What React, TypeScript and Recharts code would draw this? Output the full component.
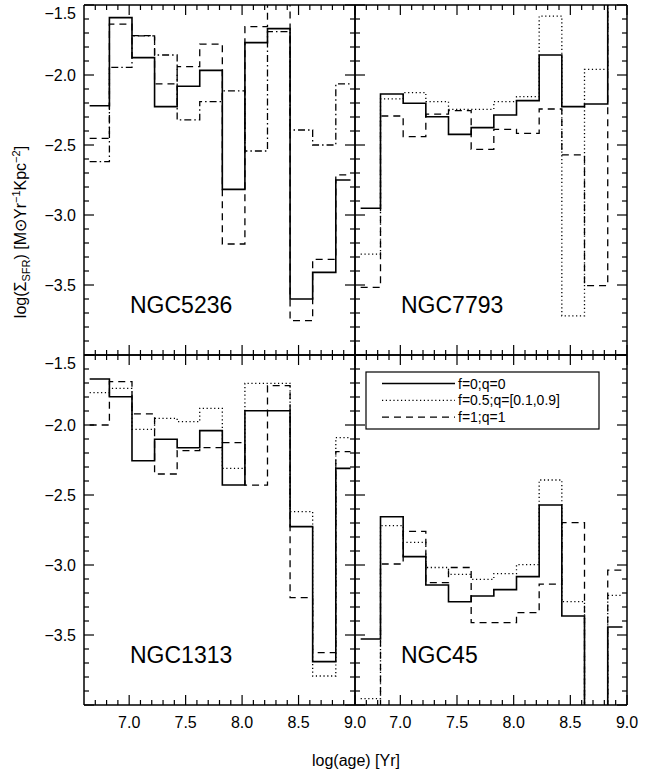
import React from 'react'
import { LineChart, Line, XAxis, YAxis } from 'recharts'

// bin edges in log(age); last edge closes the final bin
const BIN_EDGES = [6.65, 6.825, 7.025, 7.225, 7.425, 7.625, 7.825, 8.025, 8.225, 8.425, 8.625, 8.83, 8.96]

// log(Sigma_SFR) per bin (values beyond the frame are clipped)
const NGC5236_F0 = [-2.22, -1.59, -1.876, -2.226, -2.08, -1.967, -2.817, -1.769, -1.669, -3.6, -3.41, -2.75]
const NGC5236_F05 = [-2.619, -1.945, -1.72, -1.857, -2.32, -2.19, -2.114, -2.543, -1.69, -2.393, -2.5, -2.064]
const NGC5236_F1 = [-2.452, -1.636, -1.719, -2.064, -1.94, -1.779, -3.207, -1.655, -1.4, -3.755, -3.317, -2.714]

const NGC7793_F0 = [-2.952, -2.136, -2.202, -2.298, -2.424, -2.376, -2.286, -2.183, -1.857, -2.226, -2.207, -1.3]
const NGC7793_F05 = [-3.28, -2.171, -2.126, -2.19, -2.245, -2.245, -2.19, -2.155, -1.579, -3.72, -1.96, -1.3]
const NGC7793_F1 = [-3.517, -2.293, -2.44, -2.279, -2.255, -2.531, -2.388, -2.417, -2.243, -2.571, -3.505, -1.3]

const NGC1313_F0 = [-1.671, -1.798, -2.255, -2.102, -2.162, -2.04, -2.429, -1.898, -1.898, -2.726, -3.69, -2.31]
const NGC1313_F05 = [-1.769, -1.738, -2.031, -1.952, -1.976, -1.881, -2.31, -1.702, -1.702, -2.619, -3.793, -2.09]
const NGC1313_F1 = [-2.0, -1.69, -1.921, -2.35, -2.183, -2.162, -2.126, -2.429, -1.719, -3.233, -3.626, -2.19]

const NGC45_F0 = [-3.529, -2.655, -2.94, -3.143, -3.262, -3.221, -3.176, -3.083, -2.571, -3.364, -4.3, -3.443]
const NGC45_F05 = [-3.955, -2.719, -2.839, -3.018, -3.067, -3.102, -3.062, -2.998, -2.393, -3.262, -4.3, -3.217]
const NGC45_F1 = [-4.3, -2.993, -2.76, -3.126, -3.018, -3.412, -3.412, -3.34, -3.136, -2.698, -4.3, -3.036]

const X_TICKS = [6.7, 6.8, 6.9, 7.0, 7.1, 7.2, 7.3, 7.4, 7.5, 7.6, 7.7, 7.8, 7.9, 8.0, 8.1, 8.2, 8.3, 8.4, 8.5, 8.6, 8.7, 8.8, 8.9, 9.0]
const X_LABELS = [7.0, 7.5, 8.0, 8.5, 9.0]
const Y_TICKS = [-4.0, -3.9, -3.8, -3.7, -3.6, -3.5, -3.4, -3.3, -3.2, -3.1, -3.0, -2.9, -2.8, -2.7, -2.6, -2.5, -2.4, -2.3, -2.2, -2.1, -2.0, -1.9, -1.8, -1.7, -1.6, -1.5]
const Y_LABELS = [-3.5, -3.0, -2.5, -2.0, -1.5]

const LEGEND_LABELS = ['f=0;q=0', 'f=0.5;q=[0.1,0.9]', 'f=1;q=1']

const X_DOMAIN = [6.6, 9.0]
const Y_DOMAIN = [-4.0, -1.5]

const W = 657
const H = 778
const FONT = '"Liberation Sans", Arial, sans-serif'

const DASH: Record<string, string | undefined> = {
  solid: undefined,
  dotted: '1.2 2.6',
  dashed: '7 5',
  dashdot: '7 3 1.5 3',
}
const WIDTH: Record<string, number> = { solid: 1.6, dotted: 1.3, dashed: 1.3, dashdot: 1.3 }

const near = (a: number, list: number[]) => list.some((b) => Math.abs(a - b) < 1e-6)
const isMajor = (v: number) => Math.abs(v * 2 - Math.round(v * 2)) < 1e-6

const fmt = (v: number) => (v < 0 ? '\u2212' + Math.abs(v).toFixed(1) : v.toFixed(1))

// tick labels from the axes
const makeTick = (side: 'bottom' | 'left', showLabels: boolean) => (props: any) => {
  const { x, y, payload } = props
  const v = payload.value as number
  if (showLabels && side === 'bottom' && near(v, X_LABELS)) {
    return (
      <text x={x} y={y + 23} textAnchor="middle" fontSize={16} fontFamily={FONT} fill="#000">
        {v.toFixed(1)}
      </text>
    )
  }
  if (showLabels && side === 'left' && near(v, Y_LABELS)) {
    const shift = Math.abs(v + 1.5) < 1e-6 ? 8 : 0
    return (
      <text x={x - 8} y={y + 6 + shift} textAnchor="end" fontSize={16} fontFamily={FONT} fill="#000">
        {fmt(v)}
      </text>
    )
  }
  return <g />
}

function buildRows(a: number[], b: number[], c: number[]) {
  return BIN_EDGES.map((edge, i) => {
    const k = Math.min(i, a.length - 1)
    return { x: edge, f0: a[k], f05: b[k], f1: c[k] }
  })
}

type Panel = {
  name: string
  rows: { x: number; f0: number; f05: number; f1: number }[]
  left: number
  top: number
  right: number
  bottom: number
  midStyle: string
  yLabels: boolean
  xLabels: boolean
}

const PANELS: Panel[] = [
  { name: 'NGC5236', rows: buildRows(NGC5236_F0, NGC5236_F05, NGC5236_F1), left: 84, top: 5, right: 355, bottom: 355, midStyle: 'dashdot', yLabels: true, xLabels: false },
  { name: 'NGC7793', rows: buildRows(NGC7793_F0, NGC7793_F05, NGC7793_F1), left: 355, top: 5, right: 627, bottom: 355, midStyle: 'dotted', yLabels: false, xLabels: false },
  { name: 'NGC1313', rows: buildRows(NGC1313_F0, NGC1313_F05, NGC1313_F1), left: 84, top: 355, right: 355, bottom: 705, midStyle: 'dotted', yLabels: true, xLabels: true },
  { name: 'NGC45', rows: buildRows(NGC45_F0, NGC45_F05, NGC45_F1), left: 355, top: 355, right: 627, bottom: 705, midStyle: 'dotted', yLabels: false, xLabels: true },
]

// same linear mapping as the panel's axes, used only for the frame tick marks
const sx = (p: Panel, v: number) => p.left + ((v - X_DOMAIN[0]) / (X_DOMAIN[1] - X_DOMAIN[0])) * (p.right - p.left)
const sy = (p: Panel, v: number) => p.top + ((Y_DOMAIN[1] - v) / (Y_DOMAIN[1] - Y_DOMAIN[0])) * (p.bottom - p.top)

function FrameTicks({ p }: { p: Panel }) {
  const marks: React.ReactNode[] = []
  X_TICKS.forEach((t, i) => {
    const x = sx(p, t)
    const l = isMajor(t) ? 10 : 5
    marks.push(<line key={`b${i}`} x1={x} x2={x} y1={p.bottom} y2={p.bottom - l} stroke="#000" strokeWidth={1.2} />)
    marks.push(<line key={`t${i}`} x1={x} x2={x} y1={p.top} y2={p.top + l} stroke="#000" strokeWidth={1.2} />)
  })
  Y_TICKS.forEach((v, i) => {
    const y = sy(p, v)
    const l = isMajor(v) ? 10 : 5
    marks.push(<line key={`l${i}`} x1={p.left} x2={p.left + l} y1={y} y2={y} stroke="#000" strokeWidth={1.2} />)
    marks.push(<line key={`r${i}`} x1={p.right} x2={p.right - l} y1={y} y2={y} stroke="#000" strokeWidth={1.2} />)
  })
  return <g>{marks}</g>
}

// axes need a non-zero size to be drawn; the margins absorb it
const AX = 1

function PanelChart({ p }: { p: Panel }) {
  const axisLine = { stroke: '#000', strokeWidth: 1.5 }
  const series = [
    { key: 'f0', style: 'solid' },
    { key: 'f05', style: p.midStyle },
    { key: 'f1', style: 'dashed' },
  ]
  return (
    <div style={{ position: 'absolute', left: 0, top: 0 }}>
      <LineChart
        width={W}
        height={H}
        data={p.rows}
        margin={{ top: p.top - AX, left: p.left - AX, right: W - p.right - AX, bottom: H - p.bottom - AX }}
      >
        <XAxis
          xAxisId="b"
          dataKey="x"
          type="number"
          domain={X_DOMAIN}
          allowDataOverflow
          ticks={X_TICKS}
          interval={0}
          height={AX}
          tickSize={0}
          tickMargin={0}
          tickLine={false}
          axisLine={axisLine}
          tick={makeTick('bottom', p.xLabels)}
        />
        <XAxis
          xAxisId="t"
          orientation="top"
          dataKey="x"
          type="number"
          domain={X_DOMAIN}
          allowDataOverflow
          height={AX}
          tickLine={false}
          tick={false}
          axisLine={axisLine}
        />
        <YAxis
          yAxisId="l"
          type="number"
          domain={Y_DOMAIN}
          allowDataOverflow
          ticks={Y_TICKS}
          interval={0}
          width={AX}
          tickSize={0}
          tickMargin={0}
          tickLine={false}
          axisLine={axisLine}
          tick={makeTick('left', p.yLabels)}
        />
        <YAxis
          yAxisId="r"
          orientation="right"
          type="number"
          domain={Y_DOMAIN}
          allowDataOverflow
          width={AX}
          tickLine={false}
          tick={false}
          axisLine={axisLine}
        />
        {series.map((s) => (
          <Line
            key={s.key}
            xAxisId="b"
            yAxisId="l"
            dataKey={s.key}
            type="stepAfter"
            stroke="#000"
            strokeWidth={WIDTH[s.style]}
            strokeDasharray={DASH[s.style]}
            dot={false}
            activeDot={false}
            isAnimationActive={false}
          />
        ))}
      </LineChart>
    </div>
  )
}

export default function App() {
  return (
    <div style={{ position: 'absolute', left: 0, top: 0, width: W, height: H, background: '#fff' }}>
      {PANELS.map((p) => (
        <PanelChart key={p.name} p={p} />
      ))}
      <svg width={W} height={H} style={{ position: 'absolute', left: 0, top: 0, pointerEvents: 'none' }}>
        {PANELS.map((p) => (
          <FrameTicks key={`ft-${p.name}`} p={p} />
        ))}
        {PANELS.map((p) => (
          <text key={p.name} x={p.left + 46} y={p.bottom - 42} fontSize={23} fontFamily={FONT} fill="#000">
            {p.name}
          </text>
        ))}
        {/* legend box in the NGC45 panel */}
        <rect x={366} y={372} width={233} height={57} fill="#fff" stroke="#000" strokeWidth={1.2} />
        {LEGEND_LABELS.map((lab, i) => {
          const st = ['solid', 'dotted', 'dashed'][i]
          const yy = 383.5 + i * 16.8
          return (
            <g key={lab}>
              <line x1={382} x2={455} y1={yy} y2={yy} stroke="#000" strokeWidth={WIDTH[st]} strokeDasharray={DASH[st]} />
              <text x={458} y={yy + 5} fontSize={14} fontFamily={FONT} fill="#000">
                {lab}
              </text>
            </g>
          )
        })}
        <text x={356} y={766} textAnchor="middle" fontSize={16} fontFamily={FONT} fill="#000">
          log(age) [Yr]
        </text>
        <text transform="translate(26,232) rotate(-90)" textAnchor="middle" fontSize={16} fontFamily={FONT} fill="#000">
          log(Σ<tspan fontSize={11} dy={4}>SFR</tspan>
          <tspan dy={-4}>) [M⊙Yr</tspan>
          <tspan fontSize={11} dy={-6}>−1</tspan>
          <tspan dy={6}>Kpc</tspan>
          <tspan fontSize={11} dy={-6}>−2</tspan>
          <tspan dy={6}>]</tspan>
        </text>
      </svg>
    </div>
  )
}
